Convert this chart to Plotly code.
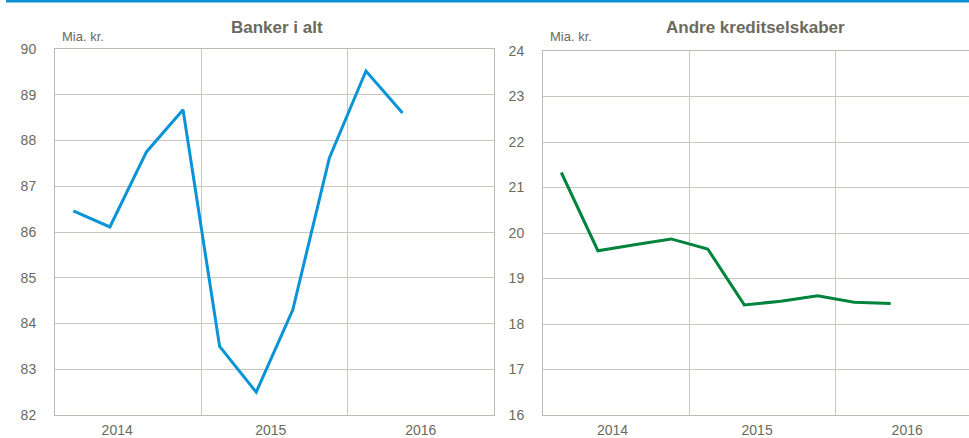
import plotly.graph_objects as go

quarters = ["2014K1", "2014K2", "2014K3", "2014K4", "2015K1", "2015K2",
            "2015K3", "2015K4", "2016K1", "2016K2"]
banker = [86.46, 86.11, 87.75, 88.67, 83.50, 82.50, 84.30, 87.62, 89.52, 88.60]
andre = [21.33, 19.61, 19.74, 19.87, 19.65, 18.42, 18.50, 18.62, 18.48, 18.45]
years = ["2014", "2015", "2016"]
titles = ["Banker i alt", "Andre kreditselskaber"]
unit = "Mia. kr."

W, H = 969, 438
FONT = "Liberation Sans Narrow, Arial Narrow, Liberation Sans, Arial"
TXT = "#6b6a5c"
GRID = "#cac7bd"
FRAME = "#bdbab0"

# quarter positions (centre of each quarter)
xpos = [i + 0.5 for i in range(len(quarters))]
qpx = 36.6  # px per quarter

fig = go.Figure()

left = (55, 494)
right = (543, 969)

fig.add_trace(go.Scatter(x=xpos, y=banker, mode="lines", line=dict(color="#0a93d5", width=3),
                         xaxis="x", yaxis="y", showlegend=False, customdata=quarters))
fig.add_trace(go.Scatter(x=xpos, y=andre, mode="lines", line=dict(color="#00843d", width=3),
                         xaxis="x2", yaxis="y2", showlegend=False, customdata=quarters))

def xax(dom, rng, labpos):
    return dict(domain=[dom[0] / W, dom[1] / W], range=rng, tickvals=labpos, ticktext=years,
                showgrid=False, zeroline=False, showline=True, mirror=True, linecolor=FRAME,
                linewidth=1, ticks="outside", ticklen=2, tickcolor="rgba(0,0,0,0)",
                automargin=False,
                tickfont=dict(family=FONT, size=14, color=TXT),
                minor=dict(tickvals=[4, 8], showgrid=True, gridcolor=GRID, gridwidth=1, ticks=""))

def yax(top, rng, mirror, anchor):
    return dict(domain=[(H - 415) / H, (H - top) / H], range=rng, dtick=1, anchor=anchor,
                showgrid=True, gridcolor=GRID, gridwidth=1, zeroline=False, showline=True,
                mirror=mirror, linecolor=FRAME, linewidth=1, ticks="outside", ticklen=15,
                automargin=False,
                tickcolor="rgba(0,0,0,0)", tickfont=dict(family=FONT, size=14, color=TXT))

fig.update_layout(
    width=W, height=H, margin=dict(l=0, r=0, t=0, b=0, autoexpand=False),
    paper_bgcolor="white", plot_bgcolor="white",
    xaxis=dict(xax(left, [0, 12], [1.7, 5.9, 10.0]), anchor="y"),
    yaxis=yax(49, [82, 90], True, "x"),
    xaxis2=dict(xax(right, [0, (right[1] - right[0]) / qpx], [1.9, 5.85, 9.95]), anchor="y2"),
    yaxis2=yax(51, [16, 24], False, "x2"),
)

# titles and unit labels
fig.add_annotation(x=277 / W, y=1 - 27 / H, xref="paper", yref="paper", text="<b>" + titles[0] + "</b>",
                   xanchor="center", yanchor="middle",
                   showarrow=False, font=dict(family=FONT, size=17, color=TXT))
fig.add_annotation(x=755 / W, y=1 - 27 / H, xref="paper", yref="paper", text="<b>" + titles[1] + "</b>",
                   xanchor="center", yanchor="middle",
                   showarrow=False, font=dict(family=FONT, size=17, color=TXT))
fig.add_annotation(x=60 / W, y=1 - 36 / H, xref="paper", yref="paper", text=unit,
                   xanchor="left", yanchor="middle",
                   showarrow=False, font=dict(family=FONT, size=13, color=TXT))
fig.add_annotation(x=548 / W, y=1 - 37 / H, xref="paper", yref="paper", text=unit,
                   xanchor="left", yanchor="middle",
                   showarrow=False, font=dict(family=FONT, size=13, color=TXT))

# top blue rule
fig.add_shape(type="rect", xref="paper", yref="paper", x0=6 / W, x1=1, y0=1 - 2.5 / H, y1=1,
              fillcolor="#0a8fd0", line=dict(width=0))

post = ("document.body.style.margin='0';"
        "var d=document.getElementById('{plot_id}');"
        "d.style.position='fixed';d.style.top='0px';d.style.left='0px';")

fig.write_html("out.html", post_script=post, config={"displayModeBar": False})
